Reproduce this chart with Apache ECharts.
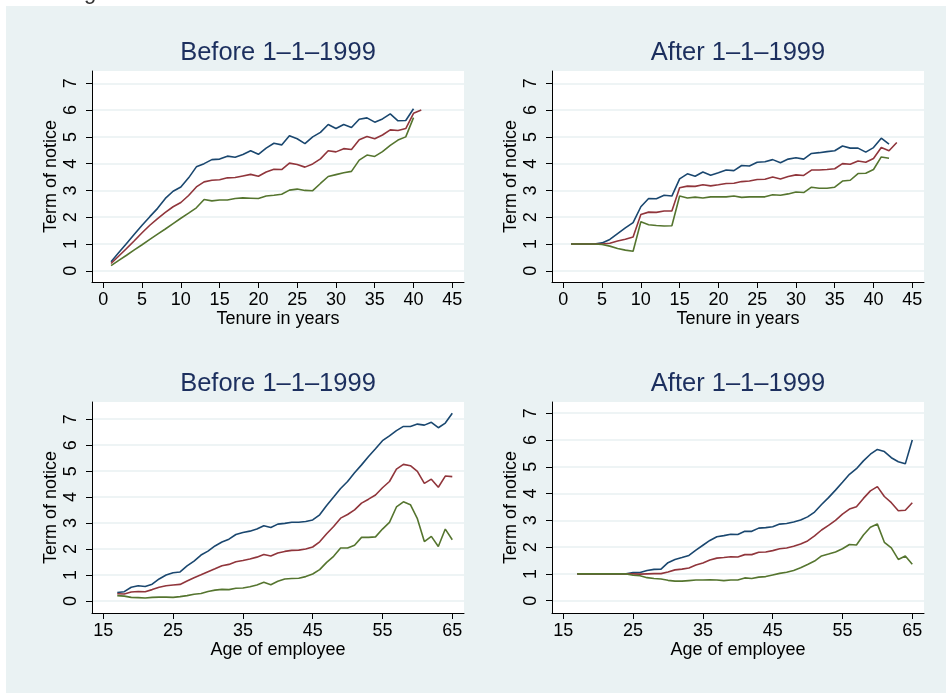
<!DOCTYPE html>
<html>
<head>
<meta charset="utf-8">
<script src="https://cdn.jsdelivr.net/npm/echarts@6/dist/echarts.min.js"></script>
<style>
  html, body { margin: 0; padding: 0; background: #ffffff; }
  #chart {
    width: 946px; height: 693px;
    background: linear-gradient(#eaf2f3, #eaf2f3) 6px 6px / 940px 687px no-repeat, #ffffff;
  }
</style>
</head>
<body>
<div id="chart"></div>
<script>
// Tick labels
const tenureTicks = [0, 5, 10, 15, 20, 25, 30, 35, 40, 45];
const ageTicks = [15, 25, 35, 45, 55, 65];
const termTicks = [0, 1, 2, 3, 4, 5, 6, 7];

// Panel titles and axis titles
const panelTitles = ['Before 1\u20131\u20131999', 'After 1\u20131\u20131999', 'Before 1\u20131\u20131999', 'After 1\u20131\u20131999'];
const tenureTitle = 'Tenure in years';
const ageTitle = 'Age of employee';
const termTitle = 'Term of notice';

// Tenure (years) categories
const tenureBefore = [1,2,3,4,5,6,7,8,9,10,11,12,13,14,15,16,17,18,19,20,21,22,23,24,25,26,27,28,29,30,31,32,33,34,35,36,37,38,39,40,41];
const tenureAfter = [1,2,3,4,5,6,7,8,9,10,11,12,13,14,15,16,17,18,19,20,21,22,23,24,25,26,27,28,29,30,31,32,33,34,35,36,37,38,39,40,41,42,43];
// Age categories
const ages = [17,18,19,20,21,22,23,24,25,26,27,28,29,30,31,32,33,34,35,36,37,38,39,40,41,42,43,44,45,46,47,48,49,50,51,52,53,54,55,56,57,58,59,60,61,62,63,64,65];

// Term of notice by tenure, before 1-1-1999
const tenureBeforeNavy = [0.34,0.68,1.02,1.36,1.70,2.02,2.33,2.70,2.97,3.13,3.47,3.88,4.00,4.15,4.17,4.28,4.24,4.34,4.48,4.35,4.58,4.76,4.70,5.04,4.93,4.75,5.00,5.17,5.46,5.31,5.46,5.35,5.66,5.71,5.55,5.67,5.86,5.60,5.61,6.05];
const tenureBeforeMaroon = [0.27,0.55,0.83,1.12,1.42,1.70,1.95,2.18,2.39,2.55,2.81,3.13,3.32,3.38,3.40,3.47,3.48,3.54,3.60,3.53,3.69,3.79,3.78,4.02,3.97,3.87,3.99,4.18,4.48,4.44,4.56,4.53,4.89,5.01,4.93,5.07,5.26,5.24,5.31,5.88,6.00];
const tenureBeforeGreen = [0.19,0.39,0.58,0.78,0.97,1.17,1.37,1.56,1.76,1.96,2.15,2.35,2.66,2.61,2.64,2.64,2.70,2.72,2.71,2.70,2.79,2.82,2.86,3.01,3.05,3.00,2.99,3.26,3.52,3.59,3.66,3.71,4.13,4.32,4.27,4.45,4.68,4.88,5.00,5.72];

// Term of notice by tenure, after 1-1-1999
const tenureAfterNavy = [1.00,1.00,1.00,1.00,1.04,1.17,1.39,1.60,1.80,2.39,2.70,2.69,2.82,2.79,3.43,3.62,3.53,3.69,3.57,3.66,3.76,3.74,3.93,3.91,4.05,4.07,4.15,4.03,4.17,4.22,4.17,4.38,4.41,4.45,4.48,4.66,4.58,4.58,4.43,4.60,4.95,4.73];
const tenureAfterMaroon = [1.00,1.00,1.00,1.00,1.00,1.03,1.11,1.18,1.26,2.10,2.19,2.18,2.23,2.23,3.10,3.16,3.15,3.21,3.17,3.21,3.26,3.27,3.33,3.35,3.41,3.42,3.50,3.43,3.52,3.58,3.56,3.76,3.76,3.78,3.81,4.00,3.98,4.10,4.05,4.19,4.60,4.48,4.79];
const tenureAfterGreen = [1.00,1.00,1.00,1.00,0.98,0.92,0.83,0.77,0.73,1.83,1.72,1.69,1.67,1.68,2.79,2.72,2.75,2.72,2.76,2.76,2.76,2.79,2.74,2.76,2.76,2.76,2.84,2.82,2.87,2.94,2.92,3.12,3.08,3.08,3.12,3.35,3.38,3.63,3.64,3.78,4.25,4.20];

// Term of notice by age, before 1-1-1999
const ageBeforeNavy = [0.33,0.36,0.53,0.59,0.56,0.65,0.85,1.00,1.09,1.12,1.35,1.54,1.77,1.92,2.12,2.27,2.38,2.56,2.64,2.69,2.77,2.90,2.83,2.96,2.99,3.03,3.03,3.06,3.12,3.32,3.68,4.00,4.33,4.60,4.94,5.24,5.56,5.86,6.17,6.36,6.56,6.72,6.72,6.81,6.77,6.88,6.67,6.85,7.23];
const ageBeforeMaroon = [0.28,0.27,0.35,0.37,0.36,0.44,0.53,0.59,0.62,0.64,0.77,0.90,1.01,1.13,1.24,1.36,1.41,1.51,1.56,1.62,1.69,1.79,1.73,1.85,1.91,1.95,1.96,2.00,2.08,2.28,2.59,2.87,3.19,3.33,3.51,3.77,3.92,4.08,4.36,4.60,5.08,5.26,5.21,4.99,4.53,4.69,4.38,4.81,4.79];
const ageBeforeGreen = [0.21,0.19,0.14,0.13,0.12,0.14,0.15,0.15,0.14,0.17,0.21,0.26,0.29,0.37,0.42,0.45,0.44,0.49,0.50,0.55,0.62,0.72,0.63,0.76,0.85,0.87,0.88,0.94,1.04,1.21,1.49,1.72,2.04,2.04,2.15,2.45,2.45,2.47,2.77,3.03,3.62,3.82,3.71,3.17,2.29,2.49,2.10,2.77,2.36];

// Term of notice by age, after 1-1-1999
const ageAfterNavy = [1.00,1.00,1.00,1.00,1.00,1.00,1.00,1.00,1.05,1.05,1.13,1.17,1.18,1.42,1.54,1.61,1.69,1.89,2.07,2.25,2.39,2.43,2.48,2.47,2.59,2.59,2.71,2.73,2.76,2.86,2.88,2.94,3.01,3.13,3.31,3.59,3.85,4.13,4.42,4.72,4.93,5.22,5.47,5.65,5.57,5.34,5.19,5.11,6.00];
const ageAfterMaroon = [1.00,1.00,1.00,1.00,1.00,1.00,1.00,1.00,1.00,0.99,1.00,1.01,1.01,1.07,1.15,1.18,1.22,1.33,1.41,1.52,1.59,1.61,1.64,1.63,1.72,1.72,1.81,1.82,1.87,1.94,1.97,2.03,2.12,2.23,2.42,2.64,2.81,3.00,3.23,3.42,3.51,3.82,4.10,4.26,3.89,3.66,3.36,3.38,3.66];
const ageAfterGreen = [1.00,1.00,1.00,1.00,1.00,1.00,1.00,1.00,0.95,0.93,0.86,0.83,0.81,0.76,0.73,0.73,0.75,0.77,0.77,0.78,0.77,0.75,0.77,0.77,0.85,0.83,0.88,0.90,0.96,1.02,1.06,1.13,1.23,1.35,1.48,1.67,1.74,1.82,1.94,2.10,2.08,2.45,2.74,2.86,2.18,1.97,1.54,1.67,1.36];

const NAVY = '#1a476f', MAROON = '#90353b', GREEN = '#55752f';
const FONT = 'Liberation Sans';

function pairs(xs, ys) {
  return ys.map((y, i) => [xs[i], y]);
}

const grids = [
  { left: 92, top: 71, width: 372, height: 211 },
  { left: 552, top: 71, width: 372, height: 211 },
  { left: 92, top: 402, width: 372, height: 211 },
  { left: 552, top: 402, width: 372, height: 211 }
].map(g => Object.assign({ show: true, backgroundColor: '#ffffff', borderWidth: 0 }, g));

function xAxisFor(idx, min, max, ticks, title) {
  return {
    type: 'value', gridIndex: idx, min: min, max: max,
    axisLine: { show: true, onZero: false, lineStyle: { color: '#000', width: 1 } },
    axisTick: { show: true, length: 6, customValues: ticks, lineStyle: { color: '#000', width: 1 } },
    axisLabel: { customValues: ticks, fontSize: 18, color: '#000', fontFamily: FONT, margin: 9 },
    splitLine: { show: false },
    name: title, nameLocation: 'middle', nameGap: 27,
    nameTextStyle: { fontSize: 18, color: '#000', fontFamily: FONT }
  };
}

function yAxisFor(idx, min, max) {
  return {
    type: 'value', gridIndex: idx, min: min, max: max,
    axisLine: { show: true, onZero: false, lineStyle: { color: '#000', width: 1 } },
    axisTick: { show: true, length: 6, customValues: termTicks, lineStyle: { color: '#000', width: 1 } },
    axisLabel: { customValues: termTicks, rotate: 90, fontSize: 18, color: '#000', fontFamily: FONT, margin: 12 },
    splitLine: { show: true, lineStyle: { color: '#e8f0f2', width: 1.5 } },
    name: termTitle, nameLocation: 'middle', nameGap: 32,
    nameTextStyle: { fontSize: 18, color: '#000', fontFamily: FONT }
  };
}

function lineSeries(idx, xs, ys, color) {
  return {
    type: 'line', xAxisIndex: idx, yAxisIndex: idx,
    data: pairs(xs, ys), showSymbol: false, symbol: 'none',
    lineStyle: { color: color, width: 1.6 }, silent: true, animation: false
  };
}

const titleCenters = [[278, 40], [738, 40], [278, 371], [738, 371]];

const option = {
  animation: false,
  title: panelTitles.map((t, i) => ({
    text: t, left: titleCenters[i][0], top: titleCenters[i][1], textAlign: 'center', padding: 0,
    textStyle: { fontSize: 25.5, fontWeight: 'normal', color: '#1c2f5e', fontFamily: FONT }
  })),
  graphic: [
    { type: 'text', x: 90, y: 4, silent: true,
      style: { text: 'g', font: '22px "Liberation Sans"', fill: '#333', align: 'center', verticalAlign: 'bottom' } }
  ],
  grid: grids,
  xAxis: [
    xAxisFor(0, -1.457, 46.51, tenureTicks, tenureTitle),
    xAxisFor(1, -1.457, 46.51, tenureTicks, tenureTitle),
    xAxisFor(2, 13.38, 66.68, ageTicks, ageTitle),
    xAxisFor(3, 13.38, 66.68, ageTicks, ageTitle)
  ],
  yAxis: [
    yAxisFor(0, -0.42, 7.46),
    yAxisFor(1, -0.42, 7.46),
    yAxisFor(2, -0.46, 7.66),
    yAxisFor(3, -0.46, 7.42)
  ],
  series: [
    lineSeries(0, tenureBefore, tenureBeforeNavy, NAVY),
    lineSeries(0, tenureBefore, tenureBeforeMaroon, MAROON),
    lineSeries(0, tenureBefore, tenureBeforeGreen, GREEN),
    lineSeries(1, tenureAfter, tenureAfterNavy, NAVY),
    lineSeries(1, tenureAfter, tenureAfterMaroon, MAROON),
    lineSeries(1, tenureAfter, tenureAfterGreen, GREEN),
    lineSeries(2, ages, ageBeforeNavy, NAVY),
    lineSeries(2, ages, ageBeforeMaroon, MAROON),
    lineSeries(2, ages, ageBeforeGreen, GREEN),
    lineSeries(3, ages, ageAfterNavy, NAVY),
    lineSeries(3, ages, ageAfterMaroon, MAROON),
    lineSeries(3, ages, ageAfterGreen, GREEN)
  ]
};

const chart = echarts.init(document.getElementById('chart'), null, { renderer: 'canvas' });
chart.setOption(option);
</script>
</body>
</html>
